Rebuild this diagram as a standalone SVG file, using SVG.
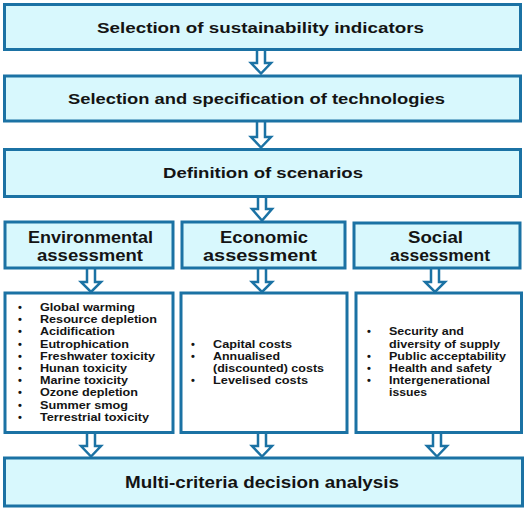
<svg xmlns="http://www.w3.org/2000/svg" width="526" height="508" viewBox="0 0 526 508">
<style>
.box{fill:#d8f8fd;stroke:#1b72a4;stroke-width:3}
.lst{fill:#ffffff;stroke:#1b72a4;stroke-width:3}
.arr{fill:#ffffff;stroke:#1b72a4;stroke-width:2.5;stroke-linejoin:miter}
text{font-family:"Liberation Sans",Arial,sans-serif;font-weight:bold;fill:#141414}
.t1{font-size:15px}
.t2{font-size:16px}
.li{font-size:11px}
</style>
<rect width="526" height="508" fill="#ffffff"/>
<g id="connectors">
<path class="arr" d="M257,50 V63 H251 L261,73.5 L271,63 H265 V50"/>
<path class="arr" d="M257,121 V137 H251 L261,147.5 L271,137 H265 V121"/>
<path class="arr" d="M258,197 V209 H252 L262,220.5 L272,209 H266 V197"/>
<path class="arr" d="M87,268 V282 H81 L91,292 L101,282 H95 V268"/>
<path class="arr" d="M258,268 V282 H252 L262,292 L272,282 H266 V268"/>
<path class="arr" d="M431,269 V282 H425 L435,292 L445,282 H439 V269"/>
<path class="arr" d="M87,433 V446 H81 L91,456.5 L101,446 H95 V433"/>
<path class="arr" d="M258,433 V446 H252 L262,456.5 L272,446 H266 V433"/>
<path class="arr" d="M433,433 V446 H427 L437,456.5 L447,446 H441 V433"/>
</g>
<g id="n1">
<rect class="box" x="4.5" y="4.5" width="516" height="45"/>
<text class="t1" x="97" y="32.5" textLength="327" lengthAdjust="spacingAndGlyphs">Selection of sustainability indicators</text>
</g>
<g id="n2">
<rect class="box" x="4.5" y="76" width="516" height="45"/>
<text class="t1" x="68" y="103.5" textLength="377" lengthAdjust="spacingAndGlyphs">Selection and specification of technologies</text>
</g>
<g id="n3">
<rect class="box" x="4.5" y="149.5" width="516" height="47"/>
<text class="t1" x="163" y="178" textLength="200" lengthAdjust="spacingAndGlyphs">Definition of scenarios</text>
</g>
<g id="env">
<rect class="box" x="5" y="222" width="168" height="46"/>
<text class="t2" x="28" y="242.5" textLength="125" lengthAdjust="spacingAndGlyphs">Environmental</text>
<text class="t2" x="37" y="260.5" textLength="106" lengthAdjust="spacingAndGlyphs">assessment</text>
</g>
<g id="eco">
<rect class="box" x="182" y="222" width="163" height="46"/>
<text class="t2" x="220" y="242.5" textLength="88" lengthAdjust="spacingAndGlyphs">Economic</text>
<text class="t2" x="203" y="260.5" textLength="114" lengthAdjust="spacingAndGlyphs">assessment</text>
</g>
<g id="soc">
<rect class="box" x="354" y="223" width="166" height="45"/>
<text class="t2" x="408" y="242.5" textLength="55" lengthAdjust="spacingAndGlyphs">Social</text>
<text class="t2" x="390" y="260.5" textLength="100" lengthAdjust="spacingAndGlyphs">assessment</text>
</g>
<g id="envlist">
<rect class="lst" x="5" y="293" width="168" height="139.5"/>
<g class="li">
<text x="18" y="311">•</text><text x="40" y="311" textLength="95" lengthAdjust="spacingAndGlyphs">Global warming</text>
<text x="18" y="323.2">•</text><text x="40" y="323.2" textLength="117" lengthAdjust="spacingAndGlyphs">Resource depletion</text>
<text x="18" y="335.4">•</text><text x="40" y="335.4" textLength="75" lengthAdjust="spacingAndGlyphs">Acidification</text>
<text x="18" y="347.6">•</text><text x="40" y="347.6" textLength="89" lengthAdjust="spacingAndGlyphs">Eutrophication</text>
<text x="18" y="359.8">•</text><text x="40" y="359.8" textLength="115" lengthAdjust="spacingAndGlyphs">Freshwater toxicity</text>
<text x="18" y="372">•</text><text x="40" y="372" textLength="87" lengthAdjust="spacingAndGlyphs">Hunan toxicity</text>
<text x="18" y="384.2">•</text><text x="40" y="384.2" textLength="88" lengthAdjust="spacingAndGlyphs">Marine toxicity</text>
<text x="18" y="396.4">•</text><text x="40" y="396.4" textLength="98" lengthAdjust="spacingAndGlyphs">Ozone depletion</text>
<text x="18" y="408.6">•</text><text x="40" y="408.6" textLength="88" lengthAdjust="spacingAndGlyphs">Summer smog</text>
<text x="18" y="420.8">•</text><text x="40" y="420.8" textLength="109" lengthAdjust="spacingAndGlyphs">Terrestrial toxicity</text>
</g>
</g>
<g id="ecolist">
<rect class="lst" x="181" y="293" width="166" height="139.5"/>
<g class="li">
<text x="191" y="347.6">•</text><text x="213" y="347.6" textLength="79" lengthAdjust="spacingAndGlyphs">Capital costs</text>
<text x="191" y="359.8">•</text><text x="213" y="359.8" textLength="67" lengthAdjust="spacingAndGlyphs">Annualised</text>
<text x="213" y="372" textLength="111" lengthAdjust="spacingAndGlyphs">(discounted) costs</text>
<text x="191" y="384.2">•</text><text x="213" y="384.2" textLength="95" lengthAdjust="spacingAndGlyphs">Levelised costs</text>
</g>
</g>
<g id="soclist">
<rect class="lst" x="356" y="293" width="165.5" height="139.5"/>
<g class="li">
<text x="367" y="335.4">•</text><text x="389" y="335.4" textLength="75" lengthAdjust="spacingAndGlyphs">Security and</text>
<text x="389" y="347.6" textLength="111" lengthAdjust="spacingAndGlyphs">diversity of supply</text>
<text x="367" y="359.8">•</text><text x="389" y="359.8" textLength="117" lengthAdjust="spacingAndGlyphs">Public acceptability</text>
<text x="367" y="372">•</text><text x="389" y="372" textLength="103" lengthAdjust="spacingAndGlyphs">Health and safety</text>
<text x="367" y="384.2">•</text><text x="389" y="384.2" textLength="101" lengthAdjust="spacingAndGlyphs">Intergenerational</text>
<text x="389" y="396.4" textLength="38" lengthAdjust="spacingAndGlyphs">issues</text>
</g>
</g>
<g id="mcda">
<rect class="box" x="4.5" y="458" width="518" height="48"/>
<text class="t2" x="125" y="488" textLength="274" lengthAdjust="spacingAndGlyphs">Multi-criteria decision analysis</text>
</g>
</svg>
